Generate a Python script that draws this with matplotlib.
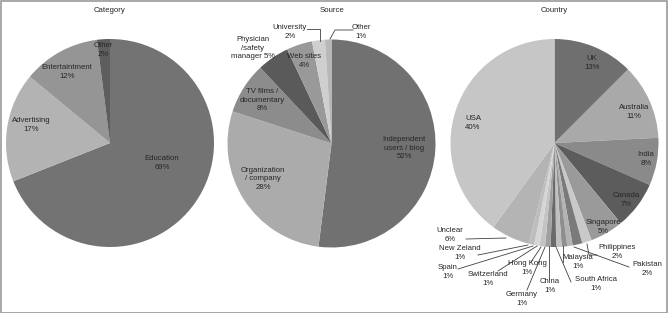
import matplotlib
matplotlib.use("Agg")
import matplotlib.pyplot as plt
from matplotlib.patches import Rectangle

plt.rcParams['font.family'] = ['Liberation Sans', 'DejaVu Sans']

# ---------------- data ----------------
cat_labels = ["Education", "Advertising", "Entertaintment", "Other"]
cat_pct = ["69%", "17%", "12%", "2%"]
cat_values = [69, 17, 12, 2]

src_labels = ["Independent\nusers / blog", "Organization\n/ company", "TV films /\ndocumentary",
              "Physician\n/safety\nmanager", "Web sites", "University", "Other"]
src_pct = ["52%", "28%", "8%", "5%", "4%", "2%", "1%"]
src_values = [52, 28, 8, 5, 4, 2, 1]

cty_labels = ["UK", "Australia", "India", "Canada", "Singapore", "Philippines", "Pakistan",
              "South Africa", "Malaysia", "China", "Germany", "Hong Kong", "Switzerland",
              "Spain", "New Zeland", "Unclear", "USA"]
cty_pct = ["13%", "11%", "8%", "7%", "5%", "2%", "2%", "1%", "1%", "1%", "1%", "1%", "1%",
           "1%", "1%", "6%", "40%"]
cty_values = [12.5, 11.7, 7.4, 7.4, 5.2, 1.5, 1.5, 0.85, 0.85, 0.85, 0.85, 0.85, 0.85,
              0.85, 0.85, 6.0, 40.0]

titles = ["Category", "Source", "Country"]

# ---------------- style ----------------
cat_colors = ["#737373", "#b3b3b3", "#959595", "#5e5e5e"]
src_colors = ["#717171", "#ababab", "#8c8c8c", "#5a5a5a", "#999999", "#cfcfcf", "#b8b8b8"]
cty_colors = ["#6f6f6f", "#a9a9a9", "#8a8a8a", "#5c5c5c", "#9a9a9a", "#c9c9c9", "#7a7a7a",
              "#b3b3b3", "#8f8f8f", "#c0c0c0", "#6a6a6a", "#a0a0a0", "#c4c4c4", "#d6d6d6",
              "#bdbdbd", "#b4b4b4", "#c6c6c6"]

W, H = 668, 313
TXT = "#262626"
LINE = "#404040"
FS = 5.6

fig = plt.figure(figsize=(W / 100, H / 100), dpi=100)
fig.patches.append(Rectangle((0.5 / W, 0.5 / H), 1 - 1.5 / W, 1 - 1.5 / H, transform=fig.transFigure,
                             fill=False, edgecolor="#9a9a9a", linewidth=1.2))

# pie geometry in pixels: (cx, cy, r)
geoms = [(110, 143, 104), (331.5, 143.5, 104), (554.5, 143, 104)]


def make_ax(cx, cy, r):
    ax = fig.add_axes([(cx - r) / W, (H - cy - r) / H, 2 * r / W, 2 * r / H])
    return ax


def p2d(g, px, py):
    cx, cy, r = g
    return (px - cx) / r, (cy - py) / r


# inside label positions (pixels)
cat_pos = [(162, 163), (31, 125), (67, 72), (103, 50)]
src_pos = [(404, 148), (263, 179), (262, 100), (253, 48), (304, 61)]
cty_in_pos = {0: (592, 63), 1: (634, 112), 2: (646, 159), 3: (626, 200), 4: (603, 227), 16: (473, 123)}

for i, (vals, cols) in enumerate([(cat_values, cat_colors), (src_values, src_colors),
                                   (cty_values, cty_colors)]):
    g = geoms[i]
    ax = make_ax(*g)
    ax.pie(vals, colors=cols, startangle=90, counterclock=False, radius=1,
           wedgeprops=dict(linewidth=0))
    ax.set_xlim(-1, 1)
    ax.set_ylim(-1, 1)
    ax.axis("off")
    fig.text(g[0] / W, 1 - 10 / H, titles[i], ha="center", va="center", fontsize=FS, color=TXT)
    if i == 0:
        for lab, pc, pos in zip(cat_labels, cat_pct, cat_pos):
            x, y = p2d(g, *pos)
            ax.text(x, y, f"{lab}\n{pc}", ha="center", va="center", fontsize=FS, color=TXT,
                    linespacing=1.3)
    elif i == 1:
        for k in range(5):
            x, y = p2d(g, *src_pos[k])
            lab = src_labels[k]
            txt = f"{lab} {src_pct[k]}" if k == 3 else f"{lab}\n{src_pct[k]}"
            ax.text(x, y, txt, ha="center", va="center", fontsize=FS, color=TXT, linespacing=1.3)
        # University
        x, y = p2d(g, 290, 32)
        ax.text(x, y, f"{src_labels[5]}\n{src_pct[5]}", ha="center", va="center", fontsize=FS,
                color=TXT, linespacing=1.3)
        pts = [p2d(g, 307, 29), p2d(g, 320, 29), p2d(g, 320, 41)]
        ax.plot([p[0] for p in pts], [p[1] for p in pts], color=LINE, lw=0.6, clip_on=False)
        # Other
        x, y = p2d(g, 361, 32)
        ax.text(x, y, f"{src_labels[6]}\n{src_pct[6]}", ha="center", va="center", fontsize=FS,
                color=TXT, linespacing=1.3)
        pts = [p2d(g, 353, 30), p2d(g, 335, 30), p2d(g, 330, 39)]
        ax.plot([p[0] for p in pts], [p[1] for p in pts], color=LINE, lw=0.6, clip_on=False)
    else:
        for k, pos in cty_in_pos.items():
            x, y = p2d(g, *pos)
            ax.text(x, y, f"{cty_labels[k]}\n{cty_pct[k]}", ha="center", va="center", fontsize=FS,
                    color=TXT, linespacing=1.3)
        # outside labels: index -> (text center px, leader polyline px)
        outside = {
            5: ((617, 252), [(597, 255), (589, 255), (587, 244)]),
            6: ((647, 269), [(629, 267), (574, 247)]),
            7: ((596, 284), [(571, 282), (556, 247)]),
            8: ((578, 262), [(563, 262), (563, 246)]),
            9: ((550, 286), [(549, 279), (549, 246)]),
            10: ((522, 299), [(527, 290), (545, 247)]),
            11: ((527, 268), [(531, 262), (541, 247)]),
            12: ((488, 279), [(498, 271), (537, 246)]),
            13: ((448, 272), [(458, 269), (533, 246)]),
            14: ((460, 253), [(478, 255), (528, 245)]),
            15: ((450, 235), [(466, 239), (506, 238)]),
        }
        for k, (tpos, line) in outside.items():
            x, y = p2d(g, *tpos)
            ax.text(x, y, f"{cty_labels[k]}\n{cty_pct[k]}", ha="center", va="center", fontsize=FS,
                    color=TXT, linespacing=1.3)
            pts = [p2d(g, *p) for p in line]
            ax.plot([p[0] for p in pts], [p[1] for p in pts], color=LINE, lw=0.6, clip_on=False)

fig.savefig("out.png", dpi=100)
